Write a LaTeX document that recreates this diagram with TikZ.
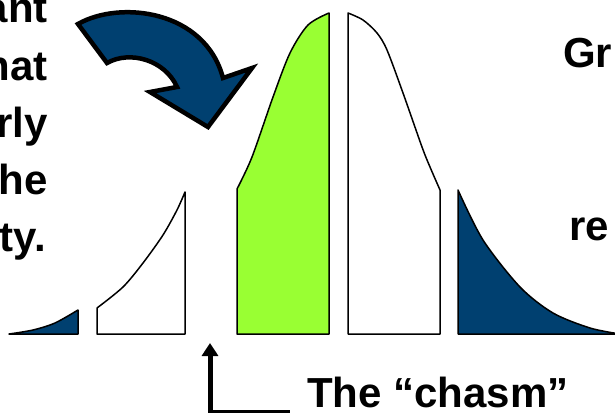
\documentclass[tikz,border=0pt]{standalone}
\usepackage{fontspec}
\setmainfont{Liberation Sans}
\usetikzlibrary{arrows.meta,positioning}

\definecolor{navy}{RGB}{0,64,112}
\definecolor{lime}{RGB}{153,255,51}

\begin{document}
\begin{tikzpicture}[
  x=1pt,y=-1pt,
  font=\fontsize{42}{48}\selectfont\bfseries,
  segment/.style={draw=black,line width=1.5pt,line join=round},
  bigarrow/.style={draw=black,fill=navy,line width=4.5pt,line join=miter},
  side/.style={inner sep=0pt,anchor=base east},
  elbow/.style={-{Triangle[length=13pt,width=16pt]},line width=5pt}
]
\useasboundingbox (0,0) rectangle (615,412);
\clip (0,0) rectangle (615,412);

% bell curve, cut into adopter groups
\draw[segment,fill=navy] (9,334) -- plot[smooth] coordinates {(9,334) (33,330) (55,323) (78,310)} -- (78,334) -- cycle;
\draw[segment,fill=white] (97,334) -- plot[smooth] coordinates {(97,308) (123,287) (143,263) (163,235) (177,210) (185,192)} -- (185,334) -- cycle;
\draw[segment,fill=lime] (237,334) -- plot[smooth] coordinates {(237,189) (252,157) (273,97) (290,53) (308,25) (329,13)} -- (329,334) -- cycle;
\draw[segment,fill=white] (348,334) -- plot[smooth] coordinates {(348,13) (363,20) (377,33) (387,50) (403,93) (422,147) (430,167) (440,190)} -- (440,334) -- cycle;
\draw[segment,fill=navy] (458,334) -- plot[smooth] coordinates {(458,190) (483,240) (520,287) (553,313) (590,328) (620,334)} -- cycle;

% curved block arrow
\draw[bigarrow] (78,24) .. controls (120,0) and (205,10) .. (223,78) -- (252,68) -- (208,127) -- (150,92) -- (177,87) .. controls (165,60) and (130,50) .. (107,63) -- cycle;

% side texts
\node[side] (ant) at (48,23) {ant};
\node[side] (hat) at (48,80) {hat};
\node[side] (rly) at (48,137) {rly};
\node[side] (he) at (48,194) {he};
\node[side] (ty) at (46,251) {ty.};
\node[inner sep=0pt,anchor=base west] (gr) at (563,67) {Gr};
\node[inner sep=0pt,anchor=base west] (re) at (569,240) {re};

% the chasm
\coordinate (gap) at (210,343);
\node[inner sep=0pt,anchor=base west] (chasm) at (307,407) {The “chasm”};
\draw[elbow] ([xshift=-17pt,yshift=-5pt]chasm.base west) -| (gap);
\end{tikzpicture}
\end{document}
